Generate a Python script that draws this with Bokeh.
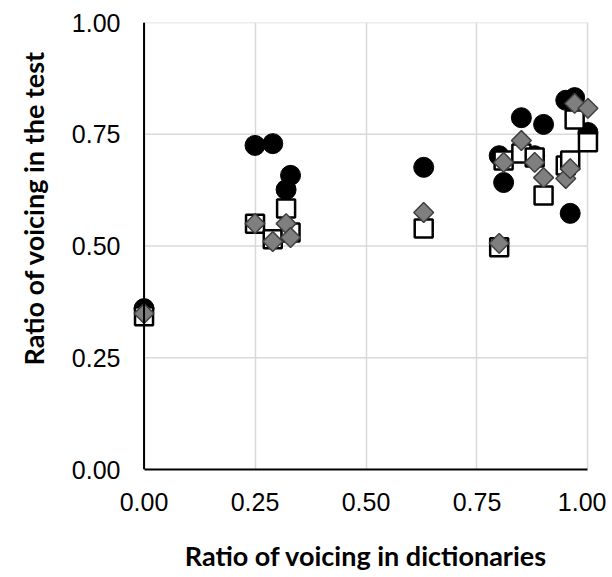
import math
from bokeh.plotting import figure
from bokeh.models import Range1d, FixedTicker, PrintfTickFormatter, Span, Title
from bokeh.embed import file_html
from bokeh.resources import INLINE

# Ratio of voicing in dictionaries (x) and in the test (y), three series
circle_x = [0.00, 0.25, 0.29, 0.32, 0.33, 0.63, 0.80, 0.81, 0.85, 0.88, 0.90, 0.95, 0.96, 0.97, 1.00]
circle_y = [0.360, 0.725, 0.729, 0.626, 0.658, 0.676, 0.702, 0.642, 0.787, 0.702, 0.772, 0.826, 0.573, 0.832, 0.754]

square_x = [0.00, 0.25, 0.29, 0.32, 0.33, 0.63, 0.80, 0.81, 0.85, 0.88, 0.90, 0.95, 0.96, 0.97, 1.00]
square_y = [0.343, 0.550, 0.515, 0.584, 0.530, 0.539, 0.497, 0.691, 0.707, 0.698, 0.613, 0.680, 0.691, 0.783, 0.732]

diamond_x = [0.00, 0.25, 0.29, 0.32, 0.33, 0.63, 0.80, 0.81, 0.85, 0.88, 0.90, 0.95, 0.96, 0.97, 1.00]
diamond_y = [0.349, 0.550, 0.510, 0.550, 0.519, 0.575, 0.506, 0.687, 0.736, 0.687, 0.653, 0.651, 0.673, 0.819, 0.808]

ticks = [0.0, 0.25, 0.5, 0.75, 1.0]
x_title = "Ratio of voicing in dictionaries"
y_title = "Ratio of voicing in the test"

PAD = 0.035
p = figure(width=606, height=577, output_backend="svg", toolbar_location=None,
           x_range=Range1d(-PAD, 1 + PAD), y_range=Range1d(0, 1),
           min_border_left=127, min_border_right=3, min_border_top=22, min_border_bottom=108)
p.outline_line_color = None
p.background_fill_color = "white"

for ax in (p.xaxis[0], p.yaxis[0]):
    ax.ticker = FixedTicker(ticks=ticks)
    ax.formatter = PrintfTickFormatter(format="%.2f")
    ax.major_tick_out = 0
    ax.major_tick_in = 0
    ax.minor_tick_out = 0
    ax.minor_tick_in = 0
    ax.major_label_text_font = "Liberation Sans"
    ax.major_label_text_font_size = "25px"
    ax.major_label_text_color = "black"

p.xaxis.axis_line_color = "black"
p.xaxis.axis_line_width = 2
p.xaxis.bounds = (0, 1)
p.xaxis.major_label_standoff = 23
p.xaxis.axis_label = x_title
p.xaxis.axis_label_standoff = 25
p.xaxis.axis_label_text_font = "Lato"
p.xaxis.axis_label_text_font_style = "bold"
p.xaxis.axis_label_text_font_size = "27px"
p.xaxis.axis_label_text_color = "black"

p.yaxis.axis_line_color = None
p.yaxis.major_label_standoff = 8

# vertical grid from the axis ticker; horizontal grid limited to the 0..1 span
p.xgrid.ticker = FixedTicker(ticks=ticks)
p.xgrid.grid_line_color = "#d9d9d9"
p.xgrid.grid_line_width = 1.5
p.ygrid.grid_line_color = None
p.segment(x0=[0.0] * len(ticks), y0=ticks, x1=[1.0] * len(ticks), y1=ticks,
          line_color="#d9d9d9", line_width=1.5)

p.add_layout(Span(location=0, dimension="height", line_color="black", line_width=2))

p.scatter(circle_x, circle_y, marker="circle", size=20, fill_color="black", line_color="black", line_width=1)
p.scatter(square_x, square_y, marker="square", size=18, fill_color="white", line_color="black", line_width=2.5)
p.scatter(diamond_x, diamond_y, marker="square", angle=math.pi / 4, size=14,
          fill_color="#7f7f7f", line_color="#404040", line_width=1.5)

p.add_layout(Title(text=y_title, align="left", offset=104, vertical_align="top",
                   text_font="Lato", text_font_style="bold", text_font_size="27px",
                   text_color="black", standoff=33), "left")

open("out.html", "w").write(file_html(p, INLINE))
